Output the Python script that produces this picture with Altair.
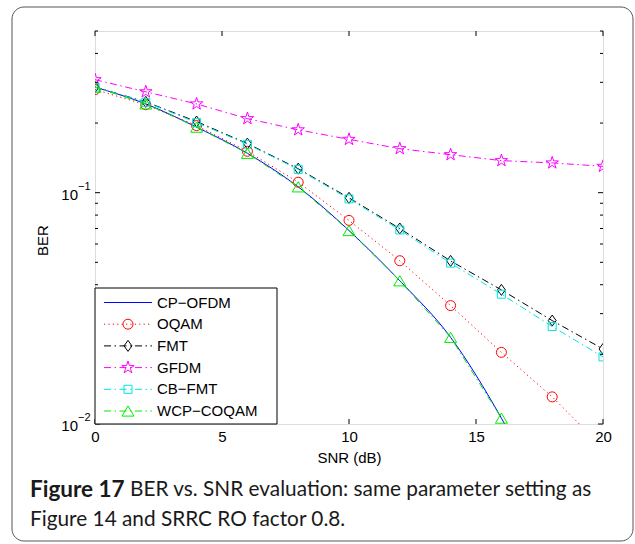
import altair as alt
import pandas as pd

# ---------------- data ----------------
snr = [0, 2, 4, 6, 8, 10, 12, 14, 16, 18, 20]
cp_ofdm = [0.286, 0.242, 0.192, 0.148, 0.106, 0.0686, 0.0416, 0.0237, 0.0106, 0.0040]
oqam = [0.279, 0.240, 0.195, 0.151, 0.111, 0.0759, 0.0508, 0.0325, 0.0204, 0.0131, 0.0079]
fmt = [0.286, 0.247, 0.203, 0.163, 0.127, 0.0950, 0.0700, 0.0507, 0.0380, 0.0280, 0.0211]
gfdm = [0.308, 0.273, 0.242, 0.209, 0.187, 0.170, 0.155, 0.146, 0.1376, 0.1345, 0.130]
cb_fmt = [0.286, 0.246, 0.201, 0.162, 0.126, 0.0940, 0.0690, 0.0496, 0.0364, 0.0264, 0.0195]
wcp_coqam = [0.286, 0.242, 0.192, 0.148, 0.106, 0.0686, 0.0416, 0.0237, 0.0106]

series_names = ["CP\u2212OFDM", "OQAM", "FMT", "GFDM", "CB\u2212FMT", "WCP\u2212COQAM"]
series_values = [cp_ofdm, oqam, fmt, gfdm, cb_fmt, wcp_coqam]

x_ticks = [0, 5, 10, 15, 20]
y_major = [0.01, 0.1]
y_major_exp = ["\u22122", "\u22121"]
y_minor = [0.02, 0.03, 0.04, 0.05, 0.06, 0.07, 0.08, 0.09, 0.2, 0.3, 0.4, 0.5]

caption_bold = "Figure 17"
caption_line1 = "BER vs. SNR evaluation: same parameter setting as"
caption_line2 = "Figure 14 and SRRC RO factor 0.8."

# ---------------- styles ----------------
FONT = "Liberation Sans"
CAP_FONT = "Lato"
W, H = 508, 393

DASHDOT = [7, 3.5, 1.5, 3.5]
DOT = [1.2, 3.2]
STAR = ("M0,-1L0.2245,-0.309L0.9511,-0.309L0.3633,0.118L0.5878,0.809L0,0.382"
        "L-0.5878,0.809L-0.3633,0.118L-0.9511,-0.309L-0.2245,-0.309Z")
DIAMOND = "M0,-1L0.72,0L0,1L-0.72,0Z"
TRIANGLE = "M0,-0.85L1,0.85L-1,0.85Z"

styles = [
    dict(color="#0000ff", dash=None, shape=None, size=0, interp="monotone"),
    dict(color="#ff0000", dash=DOT, shape="circle", size=100, interp="linear"),
    dict(color="#000000", dash=DASHDOT, shape=DIAMOND, size=121, interp="linear"),
    dict(color="#ff00ff", dash=DASHDOT, shape=STAR, size=170, interp="linear"),
    dict(color="#00e5e5", dash=DASHDOT, shape="square", size=64, interp="linear"),
    dict(color="#00ee00", dash=DASHDOT, shape=TRIANGLE, size=144, interp="linear"),
]

X_SCALE = alt.Scale(domain=[0, 20], nice=False, zero=False)
Y_SCALE = alt.Scale(type="log", domain=[0.01, 0.5], nice=False)

x_axis = alt.Axis(values=x_ticks, title="SNR (dB)", grid=False, ticks=False, tickSize=0,
                  domain=False, labelFont=FONT, labelFontSize=15, labelColor="black",
                  labelPadding=5, labelFlush=False, titleFont=FONT, titleFontSize=15,
                  titleFontWeight="normal", titleColor="black", titlePadding=6)
y_axis = alt.Axis(values=y_major, labels=False, ticks=False, tickSize=0, domain=False,
                  grid=False, title="BER", titleFont=FONT, titleFontSize=15,
                  titleFontWeight="normal", titleColor="black", titleAngle=270,
                  titleX=-53, titleY=209, titleAlign="center", titleBaseline="middle")


def X(field):
    return alt.X(field, type="quantitative", scale=X_SCALE, axis=x_axis)


def Y(field):
    return alt.Y(field, type="quantitative", scale=Y_SCALE, axis=y_axis)


layers = []

# rounded figure frame
frame_df = pd.DataFrame({"k": [0]})
layers.append(
    alt.Chart(frame_df).mark_rect(fill="transparent", stroke="#555555", strokeWidth=1,
                                  cornerRadius=12)
    .encode(x=alt.value(-83), x2=alt.value(538), y=alt.value(-24), y2=alt.value(510))
)

# data series
for name, vals, st in zip(series_names, series_values, styles):
    df = pd.DataFrame({"snr": snr[:len(vals)], "ber": vals, "series": name})
    line_kw = dict(color=st["color"], strokeWidth=1, clip=True, interpolate=st["interp"])
    if st["dash"]:
        line_kw["strokeDash"] = st["dash"]
    layers.append(alt.Chart(df).mark_line(**line_kw).encode(x=X("snr"), y=Y("ber")))
    if st["shape"]:
        layers.append(
            alt.Chart(df).mark_point(shape=st["shape"], size=st["size"], filled=False,
                                     color=st["color"], strokeWidth=1, opacity=1, clip=True)
            .encode(x=X("snr"), y=Y("ber"))
        )

# inward ticks
xt = pd.DataFrame({"v": x_ticks})
layers.append(alt.Chart(xt).mark_rule(color="black", strokeWidth=1)
              .encode(x=X("v"), y=alt.value(H), y2=alt.value(H - 5)))
layers.append(alt.Chart(xt).mark_rule(color="black", strokeWidth=1)
              .encode(x=X("v"), y=alt.value(0), y2=alt.value(5)))
ymaj = pd.DataFrame({"v": y_major, "e": y_major_exp})
ymin = pd.DataFrame({"v": y_minor})
for df, ln in [(ymaj, 5), (ymin, 3)]:
    layers.append(alt.Chart(df).mark_rule(color="black", strokeWidth=1)
                  .encode(y=Y("v"), x=alt.value(0), x2=alt.value(ln)))
    layers.append(alt.Chart(df).mark_rule(color="black", strokeWidth=1)
                  .encode(y=Y("v"), x=alt.value(W), x2=alt.value(W - ln)))

# y tick labels 10^n
layers.append(alt.Chart(ymaj).mark_text(align="right", baseline="middle", font=FONT,
                                        fontSize=15, color="black", dx=-17, dy=2)
              .encode(y=Y("v"), x=alt.value(0), text=alt.value("10")))
layers.append(alt.Chart(ymaj).mark_text(align="left", baseline="middle", font=FONT,
                                        fontSize=11, color="black", dx=-17, dy=-6)
              .encode(y=Y("v"), x=alt.value(0), text="e:N"))

# legend
LX0, LX1, LY0 = 0, 182, 257
layers.append(
    alt.Chart(frame_df).mark_rect(fill="white", stroke="black", strokeWidth=1)
    .encode(x=alt.value(LX0), x2=alt.value(LX1), y=alt.value(LY0), y2=alt.value(H))
)
for i, (name, st) in enumerate(zip(series_names, styles)):
    ly = 271.5 + 21.7 * i
    ldf = pd.DataFrame({"label": [name]})
    rule_kw = dict(color=st["color"], strokeWidth=1)
    if st["dash"]:
        rule_kw["strokeDash"] = st["dash"]
    layers.append(alt.Chart(ldf).mark_rule(**rule_kw)
                  .encode(x=alt.value(9), x2=alt.value(57), y=alt.value(ly)))
    if st["shape"]:
        layers.append(alt.Chart(ldf).mark_point(shape=st["shape"], size=st["size"],
                                                filled=False, color=st["color"],
                                                strokeWidth=1, opacity=1)
                      .encode(x=alt.value(33), y=alt.value(ly)))
    layers.append(alt.Chart(ldf).mark_text(align="left", baseline="middle", font=FONT,
                                           fontSize=15, color="black")
                  .encode(x=alt.value(62), y=alt.value(ly), text="label:N"))

# caption
cap = pd.DataFrame({"b": [caption_bold], "l1": [caption_line1], "l2": [caption_line2]})
layers.append(alt.Chart(cap).mark_text(align="left", baseline="middle", font=CAP_FONT,
                                       fontSize=22.5, fontWeight="bold", color="#1a1a1a")
              .encode(x=alt.value(-65), y=alt.value(459), text="b:N"))
layers.append(alt.Chart(cap).mark_text(align="left", baseline="middle", font=CAP_FONT,
                                       fontSize=20.8, color="#1a1a1a")
              .encode(x=alt.value(35), y=alt.value(459), text="l1:N"))
layers.append(alt.Chart(cap).mark_text(align="left", baseline="middle", font=CAP_FONT,
                                       fontSize=20.8, color="#1a1a1a")
              .encode(x=alt.value(-65), y=alt.value(489), text="l2:N"))

chart = (
    alt.layer(*layers)
    .properties(width=W, height=H,
                autosize=alt.AutoSizeParams(type="none"),
                padding={"left": 95, "top": 31, "right": 32, "bottom": 120})
    .configure_view(stroke="black", strokeWidth=1)
    .configure(background="white")
)

chart.save("out.html", embed_options={"renderer": "svg", "actions": False})
